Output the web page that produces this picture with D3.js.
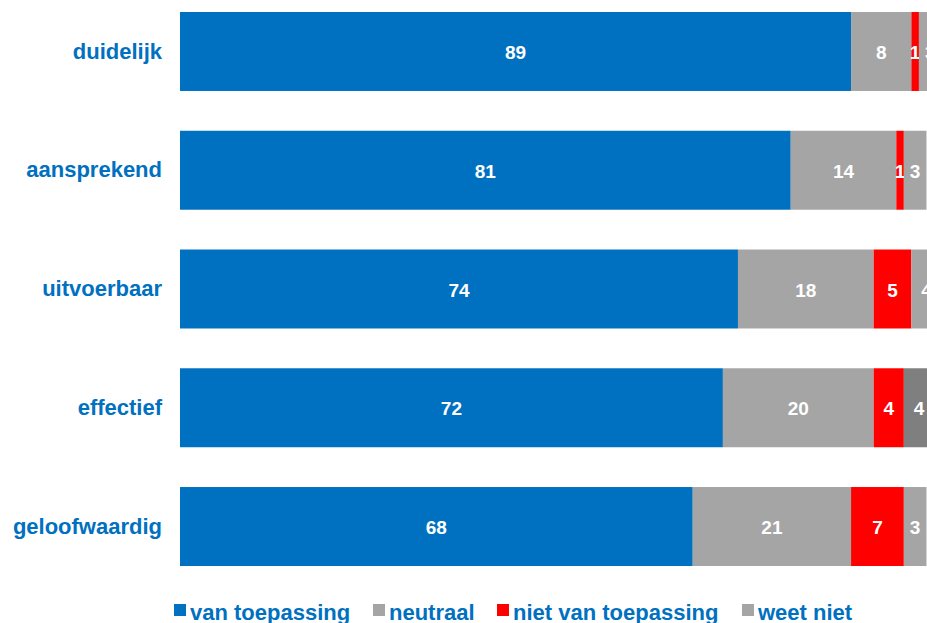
<!DOCTYPE html>
<html>
<head>
<meta charset="utf-8">
<script src="https://cdn.jsdelivr.net/npm/d3@7"></script>
<style>
  html, body { margin: 0; padding: 0; background: #fff; overflow: hidden; }
  svg { display: block; font-family: "Liberation Sans", Arial, sans-serif; }
</style>
</head>
<body>
<svg id="chart" width="927" height="623"></svg>
<script>
// Survey answers per statement (percentages)
const categories = ["duidelijk", "aansprekend", "uitvoerbaar", "effectief", "geloofwaardig"];
const seriesNames = ["van toepassing", "neutraal", "niet van toepassing", "weet niet"];
const vanToepassing = [89, 81, 74, 72, 68];
const neutraal = [8, 14, 18, 20, 21];
const nietVanToepassing = [1, 1, 5, 4, 7];
const weetNiet = [3, 3, 4, 4, 3];

const colors = ["#0070C0", "#A5A5A5", "#FF0000", "#A5A5A5"];
const weetNietEffectiefColor = "#7F7F7F";

const rows = categories.map((c, i) => ({
  category: c,
  "van toepassing": vanToepassing[i],
  "neutraal": neutraal[i],
  "niet van toepassing": nietVanToepassing[i],
  "weet niet": weetNiet[i]
}));

const stacked = d3.stack().keys(seriesNames)(rows);

const svg = d3.select("#chart");

const x = d3.scaleLinear().domain([0, 100]).range([180, 934]);
const y = d3.scaleBand()
  .domain(categories)
  .range([-7.9, 585.9])
  .paddingInner(0.335)
  .paddingOuter(0.1675);

const layers = svg.append("g").selectAll("g")
  .data(stacked)
  .join("g");

layers.selectAll("rect")
  .data((d, si) => d.map(p => ({ p, si })))
  .join("rect")
  .attr("x", d => x(d.p[0]))
  .attr("y", d => y(d.p.data.category))
  .attr("width", d => x(d.p[1]) - x(d.p[0]))
  .attr("height", y.bandwidth())
  .attr("fill", d => (d.si === 3 && d.p.data.category === "effectief") ? weetNietEffectiefColor : colors[d.si]);

layers.selectAll("text")
  .data((d, si) => d.map(p => ({ p, si, key: seriesNames[si] })))
  .join("text")
  .attr("x", d => (x(d.p[0]) + x(d.p[1])) / 2)
  .attr("y", d => y(d.p.data.category) + y.bandwidth() / 2)
  .attr("dy", "0.4em")
  .attr("text-anchor", "middle")
  .attr("fill", "#fff")
  .attr("font-weight", "bold")
  .attr("font-size", 19)
  .text(d => d.p.data[d.key]);

// Category axis on the left
const yAxis = svg.append("g")
  .attr("transform", "translate(162,0)")
  .call(d3.axisLeft(y).tickSize(0).tickPadding(0));
yAxis.select(".domain").remove();
yAxis.selectAll("text")
  .attr("fill", "#0070C0")
  .attr("font-weight", "bold")
  .attr("font-size", 22)
  .attr("font-family", "'Liberation Sans', Arial, sans-serif");

// Legend
const legendX = [174, 373, 497, 742];
const legend = svg.append("g").selectAll("g")
  .data(seriesNames)
  .join("g")
  .attr("transform", (d, i) => `translate(${legendX[i]},0)`);
legend.append("rect")
  .attr("x", 0).attr("y", 604)
  .attr("width", 12).attr("height", 12)
  .attr("fill", (d, i) => colors[i]);
legend.append("text")
  .attr("x", 16).attr("y", 620)
  .attr("fill", "#0070C0")
  .attr("font-weight", "bold")
  .attr("font-size", 22)
  .text(d => d);
</script>
</body>
</html>
